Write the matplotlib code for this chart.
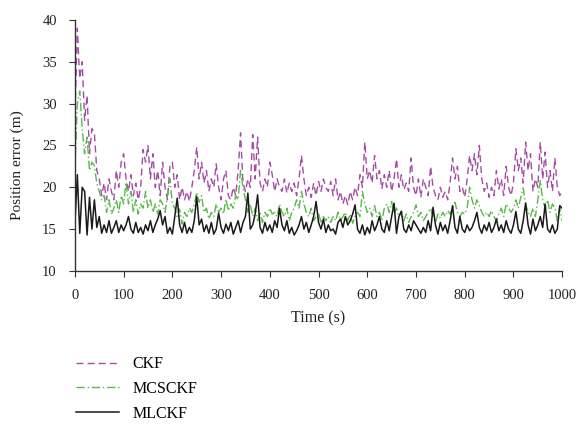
import numpy as np
import matplotlib
matplotlib.use("Agg")
import matplotlib.pyplot as plt

# Time axis (s), one sample every 5 s
time_s = np.arange(0, 1001, 5)

# Position error (m)
ckf = [
    28, 39, 33, 35, 28, 31, 24, 27, 26.5, 22, 21, 19, 20.5, 18.5, 21, 19.5, 18.5, 22, 20, 23,
    24, 21, 19.5, 21.5, 19, 20.5, 18.5, 20, 24.5, 23, 25, 21, 24, 20, 22, 19, 23, 20, 18.5, 22.5,
    23, 20, 21.5, 18.5, 20, 18.5, 19.5, 18.3, 20, 22, 24.8, 21, 23, 20.5, 22, 19.5, 21, 20, 22.8, 20,
    18.5, 21, 22, 19, 18.5, 20, 19, 22, 26.5, 20.5, 19.5, 21, 20, 26.3, 21, 26, 20.5, 19.5, 21, 20,
    23, 21.5, 19.5, 21, 20, 19.5, 21, 19.3, 20.5, 19.5, 20.5, 19, 21, 23.8, 21, 19, 20, 18.8, 20.5, 19,
    20.7, 19.5, 21, 20, 19.5, 20.7, 19, 21, 18.5, 19.5, 18, 19, 17.9, 19.5, 18.5, 20, 19, 21.5, 20, 25.4,
    21, 22, 20.5, 23.8, 21, 22, 19.8, 21.5, 20, 22, 19.5, 21, 23.4, 20, 21.5, 19.7, 20.5, 19.5, 23.5, 20,
    19, 21, 18.8, 21, 20, 19, 22.5, 20, 19, 18.5, 20, 18.8, 19.5, 18.5, 20.5, 23.5, 21, 22.5, 19.5, 20,
    18.8, 21, 23.8, 22, 24, 21.5, 25, 21, 19.5, 20.5, 18.8, 20, 19, 22, 19.8, 21, 19, 22.5, 20, 19,
    20.5, 24.6, 22, 23.5, 20.5, 25.4, 22, 24, 19.5, 21, 20, 25.4, 21, 24.2, 20, 22, 19.5, 23.5, 20, 19,
    19.5,
]
mcsckf = [
    22, 30, 31.5, 27, 24, 26, 22, 23, 22.6, 20.5, 19.5, 18.5, 19, 17, 18.5, 16.8, 17.5, 18.5, 17, 19,
    18, 20.6, 18, 19.5, 17, 18.5, 16.8, 18, 17.5, 19.5, 17.5, 18.5, 17, 18, 16.8, 18.5, 18, 17, 19, 21,
    18, 17.5, 16.5, 17.4, 15.6, 17, 16.5, 17.5, 17, 18, 19.4, 18.2, 19, 17, 17.5, 16.2, 17, 16.5, 18, 17,
    17.5, 16.8, 18.6, 17.2, 18, 17.5, 19, 18.5, 22, 20, 18.5, 17, 18, 16.5, 17.5, 16, 17, 15.8, 17, 16.5,
    17.5, 16.8, 17, 16.5, 18, 17, 16.5, 17.5, 16, 17, 17.5, 18.5, 17.5, 19.5, 18, 17, 16.5, 17.5, 16, 16.5,
    17, 15.7, 16.5, 16, 16.5, 15.8, 16.5, 16, 17, 16, 16.5, 17, 16, 16.8, 15.7, 16.5, 17, 16.5, 19.5, 18,
    17, 17.5, 16.5, 17.8, 16.5, 17, 16, 17.5, 18, 17, 18.3, 16.8, 17.5, 16.5, 17.2, 16, 16.8, 15.8, 16.5, 17,
    17.9, 16.5, 17, 16, 16.5, 17, 17.5, 16.5, 15.8, 16.8, 16.3, 17, 16.5, 17.2, 16.8, 17.5, 18.2, 17, 16.5, 17,
    16.8, 17.5, 20, 18.5, 17.5, 18.5, 17.8, 17, 16.5, 17, 16.5, 17.2, 16.5, 16, 16.8, 17.5, 16.5, 18, 17.5, 17,
    17.5, 18.5, 17.5, 18.8, 19.9, 18, 17, 16.5, 17.5, 16.5, 18.5, 20.8, 18.5, 17.5, 18.5, 17, 18, 17.5, 16, 17.5,
    16,
]
mlckf = [
    15.5, 21.5, 14.5, 20, 19.5, 14.3, 18.8, 15, 18.5, 15.2, 16.5, 14.5, 15.5, 14.6, 16, 14.5, 15.2, 16, 14.6, 15.5,
    14.8, 15.5, 16.5, 15, 14.5, 15.8, 14.6, 15.2, 14.4, 15.5, 14.8, 16, 14.6, 15.5, 16.2, 17.2, 15.5, 16.5, 14.5, 15.2,
    14.4, 16.5, 18.7, 15.5, 14.6, 15.8, 14.5, 15.2, 14.6, 16, 18.9, 15.5, 16.2, 14.7, 15.5, 14.5, 15.8, 14.4, 15, 16.9,
    15.2, 14.5, 15.6, 14.8, 15.8, 14.4, 15.2, 16, 14.6, 15.8, 16.5, 19.3, 15, 15.5, 16.8, 19.1, 15.2, 14.5, 15.8, 14.8,
    15.5, 14.6, 16, 15.2, 17.5, 15.5, 14.8, 16, 14.5, 15.2, 14.3, 14.8, 15.5, 16.5, 15, 15.8, 14.6, 15.5, 16.5, 18.3,
    15.8, 15, 16.2, 14.6, 15.5, 14.8, 15, 14.4, 15.8, 16.2, 15.2, 16.5, 15.5, 16, 16.8, 17.9, 15, 14.5, 15.5, 14.3,
    15.2, 14.5, 16, 14.8, 15.5, 16.5, 15, 14.6, 16, 14.8, 16.5, 18.1, 14.5, 16.5, 17.1, 15, 14.6, 15.5, 14.8, 16,
    15.5, 15, 14.5, 15.2, 14.6, 16, 14.8, 17.6, 15.5, 14.4, 15.8, 14.8, 15.5, 14.5, 16, 17.8, 15.2, 14.5, 16.5, 15,
    14.6, 15.5, 14.8, 15.2, 16, 17, 15.2, 14.5, 15.5, 14.8, 15.8, 14.6, 15.2, 16.2, 14.8, 15.5, 14.6, 16, 15, 14.5,
    15.5, 17.1, 15, 14.5, 16, 18.1, 15.5, 14.4, 16.2, 14.8, 15.5, 16.5, 15.2, 18, 15, 14.6, 15.5, 14.5, 15, 17.8,
    17.5,
]

x_ticks = [0, 100, 200, 300, 400, 500, 600, 700, 800, 900, 1000]
y_ticks = [10, 15, 20, 25, 30, 35, 40]

plt.rcParams['font.family'] = ['Liberation Serif', 'DejaVu Serif']
plt.rcParams['font.size'] = 10.5

fig = plt.figure(figsize=(5.85, 4.24), dpi=100)
ax = fig.add_axes([0.128, 0.361, 0.833, 0.592])

ax.plot(time_s, ckf, color='#a64ca6', lw=1.0, dashes=(5, 3), label='CKF')
ax.plot(time_s, mcsckf, color='#58b947', lw=1.0, dashes=(6, 2, 1, 2), label='MCSCKF')
ax.plot(time_s, mlckf, color='#1a1a1a', lw=1.1, label='MLCKF')

ax.set_xlim(0, 1000)
ax.set_ylim(10, 40)
ax.set_xticks(x_ticks)
ax.set_yticks(y_ticks)
ax.spines['top'].set_visible(False)
ax.spines['right'].set_visible(False)
for s in ('left', 'bottom'):
    ax.spines[s].set_color('#333333')
    ax.spines[s].set_linewidth(1.0)
ax.tick_params(direction='out', length=4, pad=9, color='#333333', labelcolor='#222222')

ax.set_xlabel('Time (s)', color='#222222', labelpad=6, fontsize=11.5)
ax.set_ylabel('Position error (m)', color='#222222', labelpad=11, fontsize=11)
ax.yaxis.set_label_coords(-0.105, 0.42)

fig.legend(loc='upper left', bbox_to_anchor=(0.105, 0.194), frameon=False, fontsize=11.5,
           handlelength=2.7, handletextpad=0.85, labelspacing=0.55)

fig.savefig('out.png', dpi=100)
